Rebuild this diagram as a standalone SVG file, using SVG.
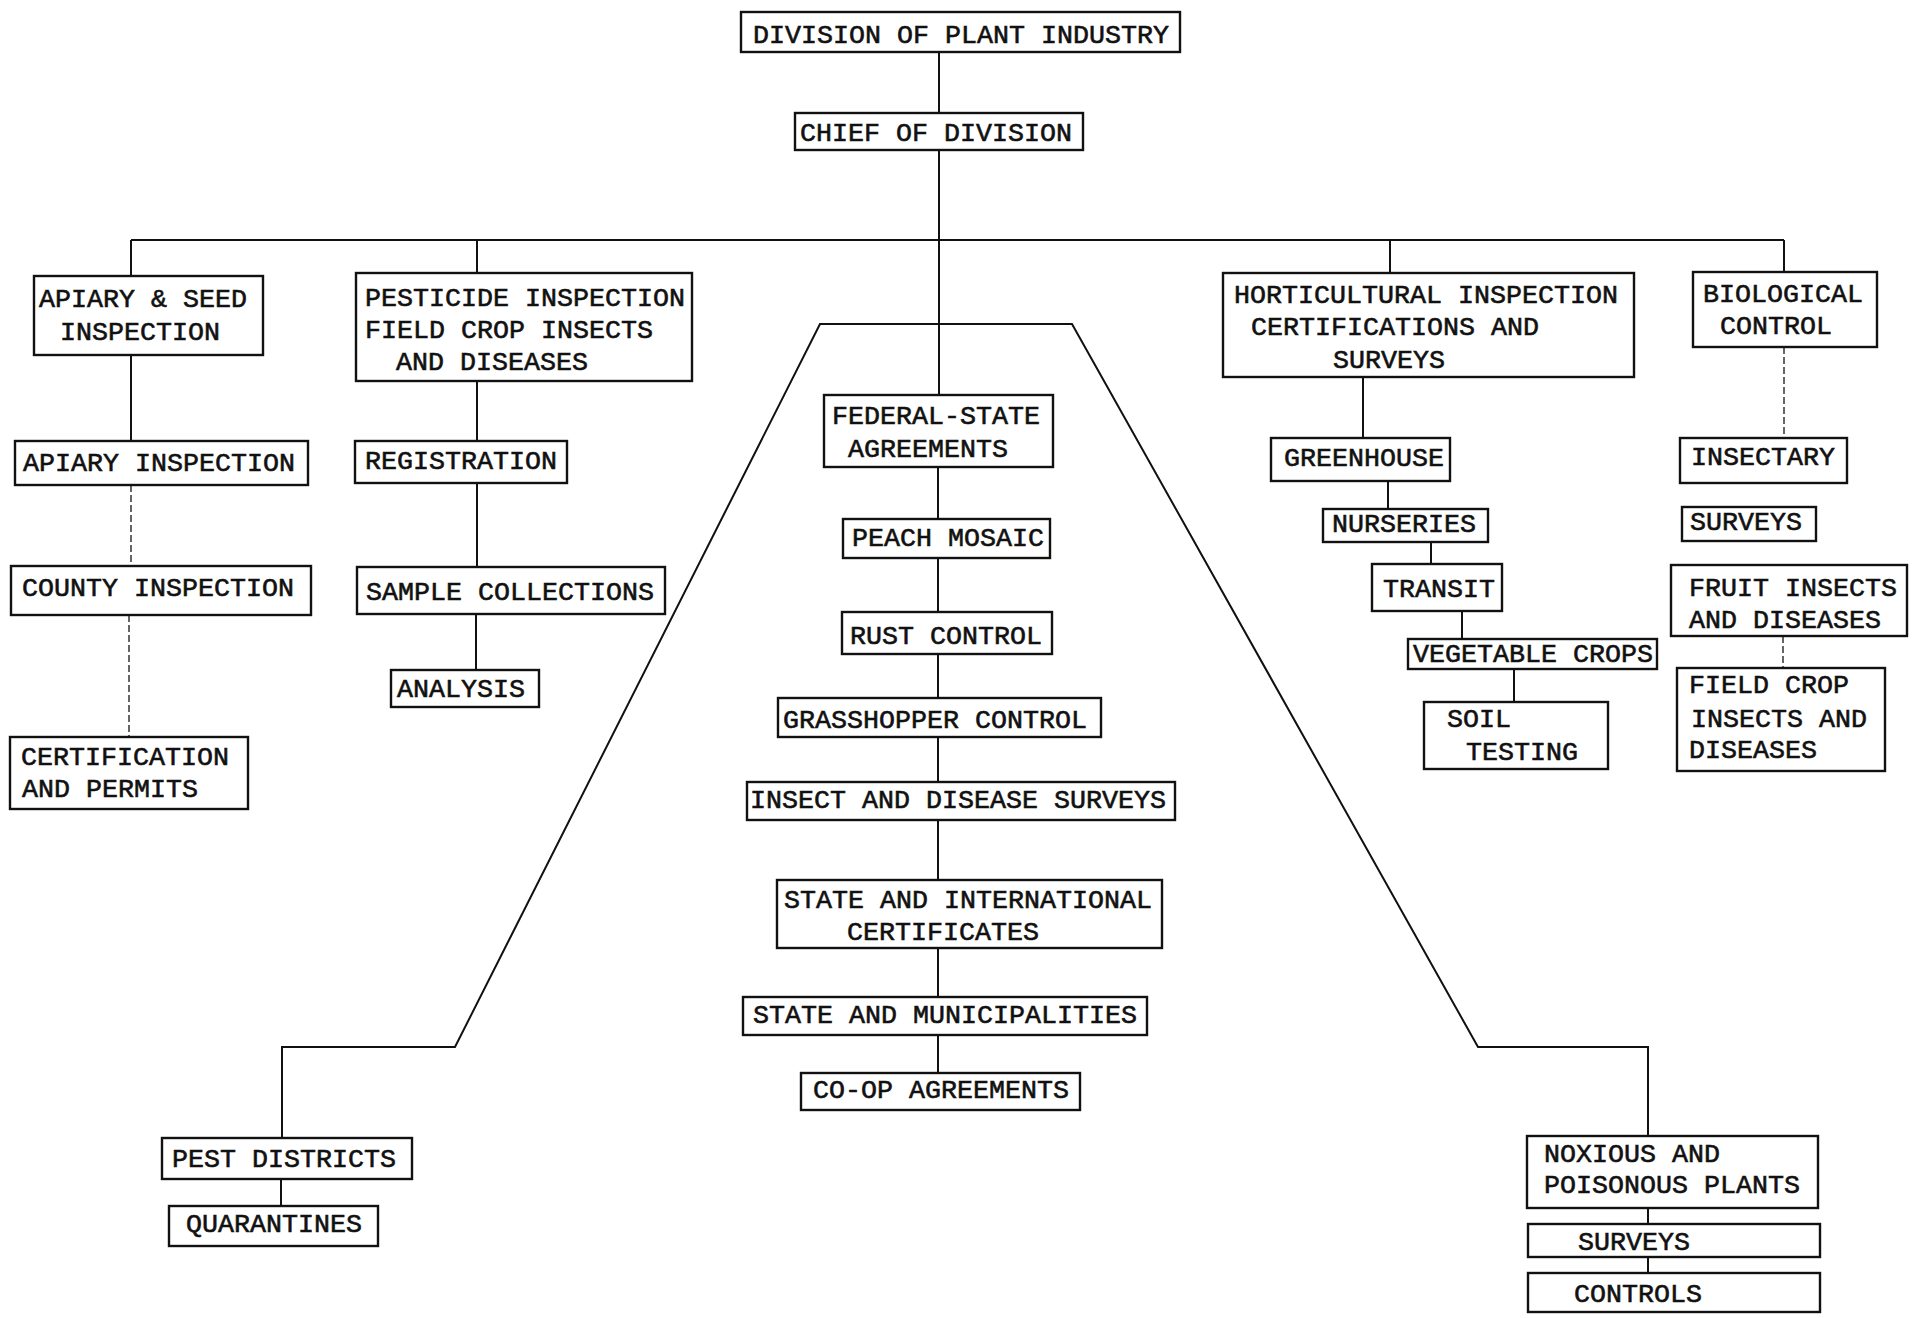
<svg xmlns="http://www.w3.org/2000/svg" width="1914" height="1318" viewBox="0 0 1914 1318">
<style>
.box{fill:#fff;stroke:#111;stroke-width:2.4}
.t{font-family:"Liberation Mono","DejaVu Sans Mono",monospace;font-size:26.67px;fill:#111;stroke:#111;stroke-width:0.6}
.c{fill:none;stroke:#111;stroke-width:2}
.d{fill:none;stroke:#333;stroke-width:1.5;stroke-dasharray:7 3}
</style>
<rect width="1914" height="1318" fill="#fff"/>
<g id="connectors">
<path class="c" d="M939,52 V113 M939,150 V395"/>
<path class="c" d="M131,240 H1784 M131,240 V276 M477,240 V273 M1390,240 V273 M1784,240 V272"/>
<path class="c" d="M131,355 V441 M477,381 V441 M477,483 V567 M476,614 V670"/>
<path class="d" d="M131,485 V566 M129,615 V737"/>
<path class="c" d="M282,1138 V1047 H455 L820,324 H1072 L1478,1047 H1648 V1136"/>
<path class="c" d="M281,1179 V1206 M1648,1208 V1224 M1648,1257 V1273"/>
<path class="c" d="M938,467 V519 M938,558 V612 M938,654 V698 M938,737 V782 M938,820 V880 M938,948 V997 M938,1035 V1073"/>
<path class="c" d="M1363,377 V438 M1388,481 V509 M1431,542 V564 M1462,611 V639 M1514,669 V702"/>
<path class="d" d="M1784,347 V438 M1783,636 V668"/>
</g>
<g id="n-division"><rect class="box" x="741" y="12" width="439" height="40"/><text class="t" x="753" y="43">DIVISION OF PLANT INDUSTRY</text></g>
<g id="n-chief"><rect class="box" x="795" y="113" width="288" height="37"/><text class="t" x="800" y="141">CHIEF OF DIVISION</text></g>
<g id="n-apiary-seed"><rect class="box" x="34" y="276" width="229" height="79"/><text class="t" x="39" y="307">APIARY &amp; SEED</text><text class="t" x="60" y="340">INSPECTION</text></g>
<g id="n-apiary-inspection"><rect class="box" x="15" y="441" width="293" height="44"/><text class="t" x="23" y="471">APIARY INSPECTION</text></g>
<g id="n-county"><rect class="box" x="11" y="566" width="300" height="49"/><text class="t" x="22" y="596">COUNTY INSPECTION</text></g>
<g id="n-certification"><rect class="box" x="10" y="737" width="238" height="72"/><text class="t" x="21" y="765">CERTIFICATION</text><text class="t" x="22" y="797">AND PERMITS</text></g>
<g id="n-pesticide"><rect class="box" x="356" y="273" width="336" height="108"/><text class="t" x="365" y="306">PESTICIDE INSPECTION</text><text class="t" x="365" y="338">FIELD CROP INSECTS</text><text class="t" x="396" y="370">AND DISEASES</text></g>
<g id="n-registration"><rect class="box" x="355" y="441" width="212" height="42"/><text class="t" x="365" y="469">REGISTRATION</text></g>
<g id="n-sample"><rect class="box" x="357" y="567" width="308" height="47"/><text class="t" x="366" y="600">SAMPLE COLLECTIONS</text></g>
<g id="n-analysis"><rect class="box" x="391" y="670" width="148" height="37"/><text class="t" x="397" y="697">ANALYSIS</text></g>
<g id="n-federal"><rect class="box" x="824" y="395" width="229" height="72"/><text class="t" x="832" y="424">FEDERAL-STATE</text><text class="t" x="848" y="457">AGREEMENTS</text></g>
<g id="n-peach"><rect class="box" x="843" y="519" width="207" height="39"/><text class="t" x="852" y="546">PEACH MOSAIC</text></g>
<g id="n-rust"><rect class="box" x="842" y="612" width="210" height="42"/><text class="t" x="850" y="644">RUST CONTROL</text></g>
<g id="n-grasshopper"><rect class="box" x="778" y="698" width="323" height="39"/><text class="t" x="783" y="728">GRASSHOPPER CONTROL</text></g>
<g id="n-insect-surveys"><rect class="box" x="747" y="782" width="428" height="38"/><text class="t" x="750" y="808">INSECT AND DISEASE SURVEYS</text></g>
<g id="n-state-intl"><rect class="box" x="777" y="880" width="385" height="68"/><text class="t" x="784" y="908">STATE AND INTERNATIONAL</text><text class="t" x="847" y="940">CERTIFICATES</text></g>
<g id="n-state-muni"><rect class="box" x="743" y="997" width="404" height="38"/><text class="t" x="753" y="1023">STATE AND MUNICIPALITIES</text></g>
<g id="n-coop"><rect class="box" x="801" y="1073" width="279" height="37"/><text class="t" x="813" y="1098">CO-OP AGREEMENTS</text></g>
<g id="n-pest"><rect class="box" x="162" y="1138" width="250" height="41"/><text class="t" x="172" y="1167">PEST DISTRICTS</text></g>
<g id="n-quarantines"><rect class="box" x="169" y="1206" width="209" height="40"/><text class="t" x="186" y="1232">QUARANTINES</text></g>
<g id="n-horticultural"><rect class="box" x="1223" y="273" width="411" height="104"/><text class="t" x="1234" y="303">HORTICULTURAL INSPECTION</text><text class="t" x="1251" y="335">CERTIFICATIONS AND</text><text class="t" x="1333" y="368">SURVEYS</text></g>
<g id="n-greenhouse"><rect class="box" x="1271" y="438" width="179" height="43"/><text class="t" x="1284" y="466">GREENHOUSE</text></g>
<g id="n-nurseries"><rect class="box" x="1323" y="509" width="165" height="33"/><text class="t" x="1332" y="532">NURSERIES</text></g>
<g id="n-transit"><rect class="box" x="1372" y="564" width="130" height="47"/><text class="t" x="1383" y="597">TRANSIT</text></g>
<g id="n-vegetable"><rect class="box" x="1408" y="639" width="249" height="30"/><text class="t" x="1413" y="662">VEGETABLE CROPS</text></g>
<g id="n-soil"><rect class="box" x="1424" y="702" width="184" height="67"/><text class="t" x="1447" y="727">SOIL</text><text class="t" x="1466" y="760">TESTING</text></g>
<g id="n-biological"><rect class="box" x="1693" y="272" width="184" height="75"/><text class="t" x="1703" y="302">BIOLOGICAL</text><text class="t" x="1720" y="334">CONTROL</text></g>
<g id="n-insectary"><rect class="box" x="1680" y="438" width="167" height="45"/><text class="t" x="1691" y="465">INSECTARY</text></g>
<g id="n-bio-surveys"><rect class="box" x="1682" y="507" width="134" height="34"/><text class="t" x="1690" y="530">SURVEYS</text></g>
<g id="n-fruit"><rect class="box" x="1671" y="565" width="236" height="71"/><text class="t" x="1689" y="596">FRUIT INSECTS</text><text class="t" x="1689" y="628">AND DISEASES</text></g>
<g id="n-field-crop"><rect class="box" x="1677" y="668" width="208" height="103"/><text class="t" x="1689" y="693">FIELD CROP</text><text class="t" x="1691" y="727">INSECTS AND</text><text class="t" x="1689" y="758">DISEASES</text></g>
<g id="n-noxious"><rect class="box" x="1527" y="1136" width="291" height="72"/><text class="t" x="1544" y="1162">NOXIOUS AND</text><text class="t" x="1544" y="1193">POISONOUS PLANTS</text></g>
<g id="n-noxious-surveys"><rect class="box" x="1528" y="1224" width="292" height="33"/><text class="t" x="1578" y="1250">SURVEYS</text></g>
<g id="n-controls"><rect class="box" x="1528" y="1273" width="292" height="39"/><text class="t" x="1574" y="1302">CONTROLS</text></g>
</svg>
